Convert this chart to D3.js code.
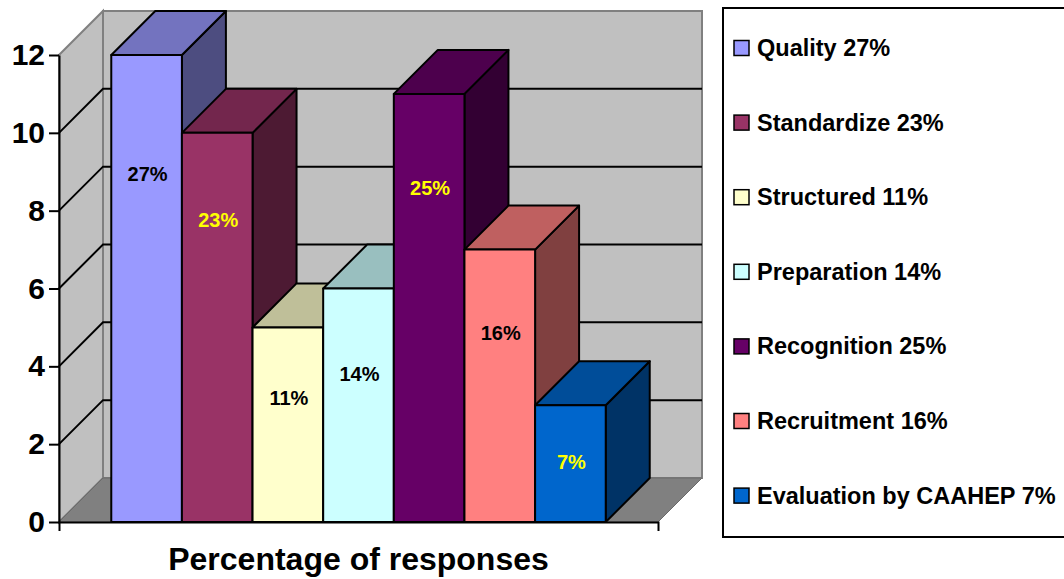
<!DOCTYPE html>
<html>
<head>
<meta charset="utf-8">
<script src="https://cdn.jsdelivr.net/npm/d3@7"></script>
<style>
  body { margin: 0; background: #fff; }
  svg { display: block; }
  text { font-family: "Liberation Sans", Arial, sans-serif; font-weight: bold; }
</style>
</head>
<body>
<svg id="chart" width="1064" height="579"></svg>
<script>
// Survey responses by reason
const categories = ["Quality", "Standardize", "Structured", "Preparation", "Recognition", "Recruitment", "Evaluation by CAAHEP"];
const responses = [12, 10, 5, 6, 11, 7, 3];
const percentLabels = ["27%", "23%", "11%", "14%", "25%", "16%", "7%"];
const barColors = ["#9999FF", "#993366", "#FFFFCC", "#CCFFFF", "#660066", "#FF8080", "#0066CC"];
const labelColors = ["#000000", "#FFFF00", "#000000", "#000000", "#FFFF00", "#000000", "#FFFF00"];
const yTicks = [0, 2, 4, 6, 8, 10, 12];
const axisTitle = "Percentage of responses";

// height (in axis units) where each data label sits on its bar
const labelLevels = [8.94, 7.76, 3.19, 3.80, 8.58, 4.86, 1.54];

const svg = d3.select("#chart");

// plot frame and 3-D depth offset
const plot = { left: 59, right: 658, bottom: 522, top: 55 };
const DX = 44, DY = 44;

const y = d3.scaleLinear().domain([0, 12]).range([plot.bottom, plot.top]);
const x = d3.scaleBand().domain(categories)
  .range([plot.left, plot.right])
  .paddingInner(0).paddingOuter(0.74);

const shade = (c, k) => {
  const r = d3.rgb(c);
  return d3.rgb(r.r * k, r.g * k, r.b * k).formatHex();
};
const pts = a => a.map(p => p.join(",")).join(" ");

// ---- walls and floor ----
const y0 = y(0), y12 = y(12);
svg.append("polygon") // side wall
  .attr("points", pts([[plot.left, y0], [plot.left, y12], [plot.left + DX, y12 - DY], [plot.left + DX, y0 - DY]]))
  .attr("fill", "#C0C0C0").attr("stroke", "#808080").attr("stroke-width", 2);
svg.append("rect") // back wall
  .attr("x", plot.left + DX).attr("y", y12 - DY)
  .attr("width", plot.right - plot.left).attr("height", y0 - y12)
  .attr("fill", "#C0C0C0").attr("stroke", "#808080").attr("stroke-width", 2);
svg.append("polygon") // floor
  .attr("points", pts([[plot.left, y0], [plot.left + DX, y0 - DY], [plot.right + DX, y0 - DY], [plot.right, y0]]))
  .attr("fill", "#808080").attr("stroke", "#6a6a6a").attr("stroke-width", 1);

// gridlines on side and back walls
const gridVals = yTicks.filter(v => v > 0 && v < 12);
const grid = svg.append("g").attr("stroke", "#000").attr("stroke-width", 2).attr("fill", "none");
gridVals.forEach(v => {
  grid.append("polyline")
    .attr("points", pts([[plot.left, y(v)], [plot.left + DX, y(v) - DY], [plot.right + DX, y(v) - DY]]));
});

// ---- 3-D columns ----
const bars = svg.append("g").attr("stroke", "#000").attr("stroke-width", 2).attr("stroke-linejoin", "round");
categories.forEach((c, i) => {
  const xl = x(c), xr = xl + x.bandwidth();
  const yt = y(responses[i]), yb = y(0);
  const g = bars.append("g");
  g.append("polygon") // side face
    .attr("points", pts([[xr, yt], [xr + DX, yt - DY], [xr + DX, yb - DY], [xr, yb]]))
    .attr("fill", shade(barColors[i], 0.5));
  g.append("polygon") // top face
    .attr("points", pts([[xl, yt], [xl + DX, yt - DY], [xr + DX, yt - DY], [xr, yt]]))
    .attr("fill", shade(barColors[i], 0.75));
  g.append("rect") // front face
    .attr("x", xl).attr("y", yt).attr("width", x.bandwidth()).attr("height", yb - yt)
    .attr("fill", barColors[i]);
});

// data labels
categories.forEach((c, i) => {
  svg.append("text")
    .attr("x", x(c) + x.bandwidth() / 2 + 1)
    .attr("y", y(labelLevels[i]))
    .attr("dy", "0.36em")
    .attr("text-anchor", "middle")
    .attr("font-size", 20)
    .attr("fill", labelColors[i])
    .text(percentLabels[i]);
});

// ---- axes ----
const yAxis = svg.append("g")
  .attr("transform", `translate(${plot.left},0)`)
  .call(d3.axisLeft(y).tickValues(yTicks).tickFormat(d3.format("d")).tickSize(10).tickSizeOuter(0).tickPadding(4));
yAxis.select(".domain").attr("stroke", "#000").attr("stroke-width", 2);
yAxis.selectAll(".tick line").attr("stroke", "#000").attr("stroke-width", 2);
yAxis.selectAll(".tick text")
  .attr("font-size", 30).attr("font-family", "Liberation Sans, Arial, sans-serif")
  .attr("font-weight", "bold").attr("fill", "#000");

const xAxis = svg.append("g")
  .attr("transform", `translate(0,${plot.bottom})`)
  .call(d3.axisBottom(x).tickValues([]).tickSizeOuter(9));
xAxis.select(".domain").attr("stroke", "#000").attr("stroke-width", 2);

svg.append("text")
  .attr("x", (plot.left + plot.right) / 2)
  .attr("y", 570)
  .attr("text-anchor", "middle")
  .attr("font-size", 32)
  .attr("fill", "#000")
  .text(axisTitle);

// ---- legend ----
const legend = svg.append("g");
legend.append("rect")
  .attr("x", 723).attr("y", 8).attr("width", 350).attr("height", 529)
  .attr("fill", "#fff").attr("stroke", "#000").attr("stroke-width", 2);
categories.forEach((c, i) => {
  const cy = 47.5 + i * 74.6;
  legend.append("rect")
    .attr("x", 734).attr("y", cy - 7).attr("width", 15).attr("height", 15)
    .attr("fill", barColors[i]).attr("stroke", "#000").attr("stroke-width", 1.5);
  legend.append("text")
    .attr("x", 757).attr("y", cy)
    .attr("dy", "0.36em")
    .attr("font-size", 23.5)
    .attr("fill", "#000")
    .text(`${c} ${percentLabels[i]}`);
});
</script>
</body>
</html>
